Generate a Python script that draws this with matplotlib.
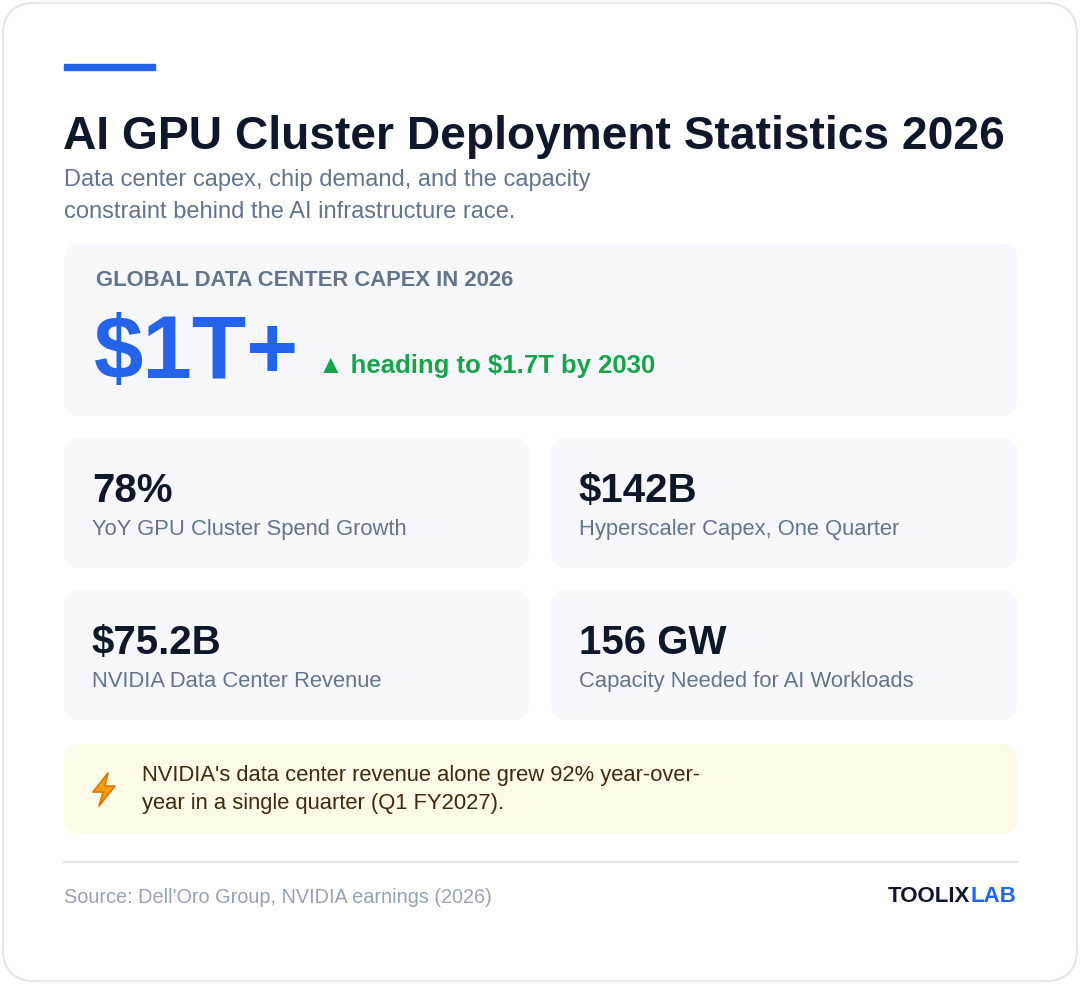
import matplotlib
matplotlib.use("Agg")
import matplotlib.pyplot as plt
from matplotlib.patches import FancyBboxPatch, Rectangle, Polygon

plt.rcParams['font.family'] = ['Liberation Sans', 'DejaVu Sans']

# content
title = "AI GPU Cluster Deployment Statistics 2026"
subtitle = ["Data center capex, chip demand, and the capacity",
            "constraint behind the AI infrastructure race."]
hero_label = "GLOBAL DATA CENTER CAPEX IN 2026"
hero_value = "$1T+"
hero_note = "\u25B2 heading to $1.7T by 2030"
stat_values = ["78%", "$142B", "$75.2B", "156 GW"]
stat_labels = ["YoY GPU Cluster Spend Growth", "Hyperscaler Capex, One Quarter",
               "NVIDIA Data Center Revenue", "Capacity Needed for AI Workloads"]
callout = ["NVIDIA's data center revenue alone grew 92% year-over-",
           "year in a single quarter (Q1 FY2027)."]
source = "Source: Dell'Oro Group, NVIDIA earnings (2026)"

DARK = "#0f172a"
GRAY = "#64748b"
BLUE = "#2563eb"
CARD = "#f7f8fd"

fig = plt.figure(figsize=(10.8, 9.84), dpi=100)
ax = fig.add_axes([0, 0, 1, 1])
ax.set_xlim(0, 1080)
ax.set_ylim(984, 0)
ax.axis('off')


def box(x0, y0, x1, y1, fc, ec="none", r=16, lw=0):
    ax.add_patch(FancyBboxPatch((x0, y0), x1 - x0, y1 - y0,
                                boxstyle=f"round,pad=0,rounding_size={r}",
                                fc=fc, ec=ec, lw=lw))


box(3, 3, 1077, 981, "white", "#e2e8f0", r=32, lw=1.5)
ax.add_patch(Rectangle((64, 64), 91, 6, color=BLUE))

ax.text(63, 149, title, fontsize=33.2, fontweight='bold', color=DARK)
for i, line in enumerate(subtitle):
    ax.text(64, 186 + i * 32, line, fontsize=17, color=GRAY)

box(64, 244, 1017, 416, CARD)
ax.text(96, 286, hero_label, fontsize=15.8, fontweight='bold', color=GRAY)
ax.text(94, 378, hero_value, fontsize=64, fontweight='bold', color=BLUE)
ax.text(318, 373, hero_note, fontsize=18.5, fontweight='bold', color="#16a34a")

xs = [(64, 529), (551, 1017)]
ys = [(438, 568), (590, 720)]
for k, (val, lab) in enumerate(zip(stat_values, stat_labels)):
    x0, x1 = xs[k % 2]
    y0, y1 = ys[k // 2]
    box(x0, y0, x1, y1, CARD)
    ax.text(x0 + 28, y0 + 64, val, fontsize=29, fontweight='bold', color=DARK)
    ax.text(x0 + 28, y0 + 97, lab, fontsize=15.8, color=GRAY)

box(64, 744, 1017, 834, "#fefae8")
# lightning bolt icon
ax.add_patch(Polygon([(108, 773), (93, 792), (103, 792), (99, 806),
                      (115, 786), (105, 786)], closed=True,
                     fc="#f59e0b", ec="#d97706", lw=1.2, joinstyle='round'))
for i, line in enumerate(callout):
    ax.text(142, 781 + i * 28, line, fontsize=15.8, color="#3f2a0d")

ax.plot([64, 1017], [862, 862], color="#e2e8f0", lw=1.5)
ax.text(64, 903, source, fontsize=14.3, color="#94a3b8")

lab_t = ax.text(1016, 902, "LAB", fontsize=16, fontweight='bold', color=BLUE, ha='right')
fig.canvas.draw()
bb = lab_t.get_window_extent()
x_left = ax.transData.inverted().transform((bb.x0, bb.y0))[0]
ax.text(x_left, 902, "TOOLIX", fontsize=16, fontweight='bold', color=DARK, ha='right')

fig.savefig("out.png", dpi=100)
